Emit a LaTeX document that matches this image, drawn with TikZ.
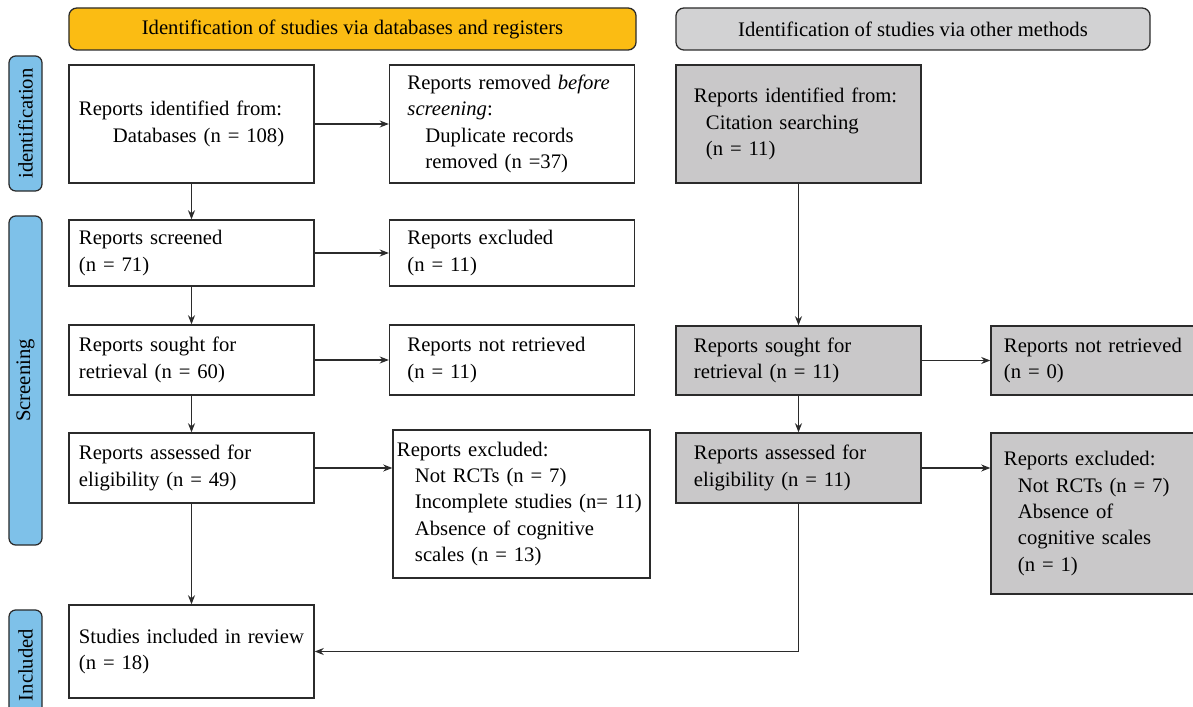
\documentclass[tikz,border=0pt]{standalone}
\usepackage{fontspec}
\setmainfont{Liberation Serif}
\usetikzlibrary{arrows.meta}
\hyphenpenalty=10000
\exhyphenpenalty=10000
\definecolor{headyellow}{HTML}{FBBC13}
\definecolor{headgrey}{HTML}{D2D2D3}
\definecolor{boxgrey}{HTML}{C9C8C9}
\definecolor{phaseblue}{HTML}{7EC1E9}
\definecolor{edge}{HTML}{2B2B2B}
\begin{document}
\begin{tikzpicture}[x=0.025cm,y=-0.025cm,
    font=\fontsize{14.7}{18.8}\selectfont,
    >={Stealth[length=6.5pt,width=5pt]}]
    \tikzset{block/.style= {draw=edge,
                            line width=0.9pt,
                            rectangle,
                            align=left,
                            minimum width=6.125cm,
                            inner xsep=0.25cm,
                            text width=5.625cm},
             side/.style=  {block,
                            inner xsep=0.45cm,
                            text width=5.225cm},
             other/.style= {side,
                            fill=boxgrey},
             head/.style=  {draw=edge,
                            line width=0.9pt,
                            rounded corners=0.2cm,
                            minimum height=1.05cm},
             phase/.style= {draw=edge,
                            line width=0.9pt,
                            fill=phaseblue,
                            rounded corners=0.17cm,
                            rotate=90,
                            minimum height=0.825cm},
             link/.style=  {->,
                            draw=edge,
                            line width=0.85pt},
            }
    \clip (0,0) rectangle (1193,707);
    \path
    (352.5,29)    node[head,fill=headyellow,minimum width=14.175cm](hl) {Identification of studies via databases and registers}
    (913,29)      node[head,fill=headgrey,minimum width=11.85cm](hr) {Identification of studies via other methods}
    (25.5,123.5)  node[phase,minimum width=3.375cm](pid) {identification}
    (25.5,380.5)  node[phase,minimum width=8.225cm](psc) {Screening}
    (25.5,665)    node[phase,minimum width=2.75cm](pin) {Included}
    (191.5,124)   node[block,minimum height=2.95cm](b1) {Reports identified from:\\\hspace*{0.85cm}Databases (n = 108)}
    (512,124)     node[side,minimum height=2.95cm](r1) {Reports removed \emph{before}\\\emph{screening}:\\\hspace*{0.45cm}Duplicate records\\\hspace*{0.45cm}removed (n =37)}
    (191.5,253)   node[block,minimum height=1.65cm](b2) {Reports screened\\(n = 71)}
    (512,253)     node[side,minimum height=1.65cm](r2) {Reports excluded\\(n = 11)}
    (191.5,360)   node[block,minimum height=1.75cm](b3) {Reports sought for\\retrieval (n = 60)}
    (512,360)     node[side,minimum height=1.75cm](r3) {Reports not retrieved\\(n = 11)}
    (191.5,468)   node[block,minimum height=1.75cm](b4) {Reports assessed for\\eligibility (n = 49)}
    (521.5,504)   node[block,minimum width=6.425cm,inner xsep=0.1cm,text width=6.225cm,minimum height=3.7cm](r4)
                  {Reports excluded:\\\hspace*{0.45cm}Not RCTs (n = 7)\\\hspace*{0.45cm}Incomplete studies (n= 11)\\\hspace*{0.45cm}Absence of cognitive\\\hspace*{0.45cm}scales (n = 13)}
    (191.5,651.5) node[block,minimum height=2.325cm](b5) {Studies included in review\\(n = 18)}
    (798.5,124)   node[other,minimum height=2.95cm](g1) {Reports identified from:\\\hspace*{0.3cm}Citation searching\\\hspace*{0.3cm}(n = 11)}
    (798.5,360.5) node[other,minimum height=1.725cm](g3) {Reports sought for\\retrieval (n = 11)}
    (1113.5,360.5) node[other,inner xsep=0.325cm,text width=5.475cm,minimum height=1.725cm](gr3) {Reports not retrieved\\(n = 0)}
    (798.5,468)   node[other,minimum height=1.75cm](g4) {Reports assessed for\\eligibility (n = 11)}
    (1113.5,513.5) node[other,inner xsep=0.325cm,text width=5.475cm,minimum height=4.025cm](gr4)
                  {Reports excluded:\\\hspace*{0.35cm}Not RCTs (n = 7)\\\hspace*{0.35cm}Absence of\\\hspace*{0.35cm}cognitive scales\\\hspace*{0.35cm}(n = 1)}
    ;
    \draw[link] (b1) -- (r1);
    \draw[link] (b1) -- (b2);
    \draw[link] (b2) -- (r2);
    \draw[link] (b2) -- (b3);
    \draw[link] (b3) -- (r3);
    \draw[link] (b3) -- (b4);
    \draw[link] (b4.east) -- (b4.east -| r4.west);
    \draw[link] (b4) -- (b5);
    \draw[link] (g1) -- (g3);
    \draw[link] (g3) -- (gr3);
    \draw[link] (g3) -- (g4);
    \draw[link] (g4.east) -- (g4.east -| gr4.west);
    \draw[link] (g4.south) |- (b5.east);
\end{tikzpicture}
\end{document}
